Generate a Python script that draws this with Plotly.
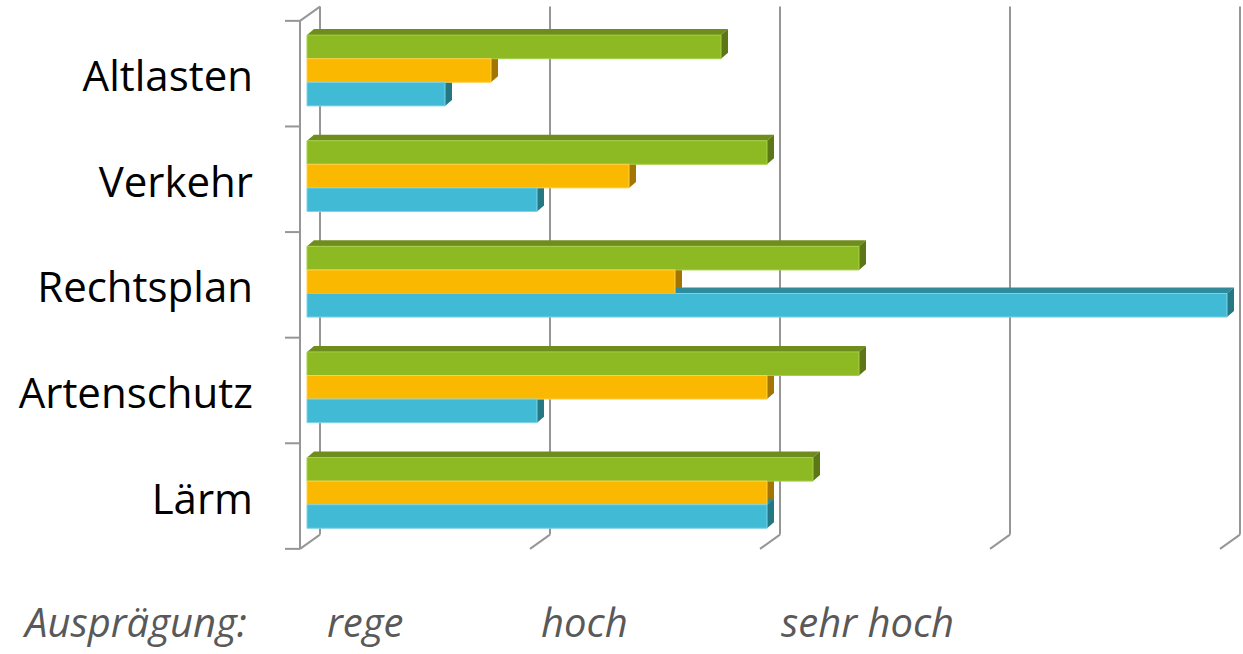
import plotly.graph_objects as go

# ---- data ----
categories = ["Altlasten", "Verkehr", "Rechtsplan", "Artenschutz", "Lärm"]
green_vals = [1.8, 2.0, 2.4, 2.4, 2.2]
orange_vals = [0.8, 1.4, 1.6, 2.0, 2.0]
blue_vals = [0.6, 1.0, 4.0, 1.0, 2.0]
grid_values = [0, 1, 2, 3, 4]
scale_title = "Ausprägung:"
scale_labels = ["rege", "hoch", "sehr hoch"]
scale_positions = [0.08, 1.01, 2.05]

# ---- styles ----
front_cols = ["#8DBA23", "#FBB800", "#41BAD5"]
top_cols = ["#6E8D1D", "#B48300", "#2F8B9B"]
side_cols = ["#5B7716", "#A27600", "#267784"]
edge_cols = ["#A6CF4A", "#FFD04A", "#7FD3E6"]
series = [green_vals, orange_vals, blue_vals]

BARGAP = 0.33
PX_X = 230.0      # pixels per x unit
PX_Y = 105.6      # pixels per category
BAR_DX = 7 / PX_X
BAR_DY = 6 / PX_Y
FRONT_DX, FRONT_DY = -7 / PX_X, 0.03
BACK_DX, BACK_DY = 13 / PX_X, -0.105
GRID_COL = "#969696"
PLOT_W = 959
PLOT_H = 560

ypos = list(range(len(categories)))

fig = go.Figure()
for t, vals in enumerate(series):
    fig.add_trace(go.Bar(
        y=ypos, x=vals, orientation="h",
        marker=dict(color=front_cols[t], line=dict(color=edge_cols[t], width=1)),
        showlegend=False, hoverinfo="x+y",
    ))

shapes = []
n = len(categories)
# back wall grid lines + floor diagonals
for g in grid_values:
    shapes.append(dict(type="line", xref="x", yref="y", layer="below",
                       x0=g + BACK_DX, x1=g + BACK_DX,
                       y0=-0.5 + BACK_DY, y1=n - 0.5 + BACK_DY,
                       line=dict(color=GRID_COL, width=2)))
    shapes.append(dict(type="line", xref="x", yref="y", layer="below",
                       x0=g + BACK_DX, x1=g + FRONT_DX,
                       y0=n - 0.5 + BACK_DY, y1=n - 0.5 + FRONT_DY,
                       line=dict(color=GRID_COL, width=2)))
# left front axis
shapes.append(dict(type="line", xref="x", yref="y", layer="below",
                   x0=FRONT_DX, x1=FRONT_DX, y0=-0.5 + FRONT_DY, y1=n - 0.5 + FRONT_DY,
                   line=dict(color=GRID_COL, width=2)))
shapes.append(dict(type="line", xref="x", yref="y", layer="below",
                   x0=FRONT_DX, x1=BACK_DX, y0=-0.5 + FRONT_DY, y1=-0.5 + BACK_DY,
                   line=dict(color=GRID_COL, width=2)))
for j in range(n + 1):
    shapes.append(dict(type="line", xref="x", yref="y", layer="below",
                       x0=FRONT_DX - 15 / PX_X, x1=FRONT_DX,
                       y0=j - 0.5 + FRONT_DY, y1=j - 0.5 + FRONT_DY,
                       line=dict(color=GRID_COL, width=2)))

# 3D faces of bars
bw = (1 - BARGAP) / len(series)
for t, vals in enumerate(series):
    for i, v in enumerate(vals):
        top = i - (1 - BARGAP) / 2 + t * bw
        bot = top + bw
        shapes.append(dict(type="path", xref="x", yref="y", layer="below",
                           path=f"M 0,{top} L {v},{top} L {v + BAR_DX},{top - BAR_DY} L {BAR_DX},{top - BAR_DY} Z",
                           fillcolor=top_cols[t], line=dict(width=0)))
        shapes.append(dict(type="path", xref="x", yref="y", layer="below",
                           path=f"M {v},{top} L {v + BAR_DX},{top - BAR_DY} L {v + BAR_DX},{bot - BAR_DY} L {v},{bot} Z",
                           fillcolor=side_cols[t], line=dict(width=0)))

ANN_Y = -(621 - PLOT_H) / PLOT_H
ann_font = dict(size=40, color="#595959", family="Open Sans")
annotations = [dict(text=f"<i>{scale_title}</i>", xref="paper", yref="paper",
                    x=(20 - 284) / PLOT_W, xanchor="left", y=ANN_Y, yanchor="middle",
                    showarrow=False, font=ann_font)]
for lab, pos in zip(scale_labels, scale_positions):
    annotations.append(dict(text=f"<i>{lab}</i>", xref="x", yref="paper",
                            x=pos, xanchor="left", y=ANN_Y, yanchor="middle",
                            showarrow=False, font=ann_font))

top_px = 70.5
ymin = -top_px / PX_Y
ymax = (PLOT_H - top_px) / PX_Y

fig.update_layout(
    width=1243, height=654,
    margin=dict(l=284, r=0, t=0, b=654 - PLOT_H),
    paper_bgcolor="white", plot_bgcolor="white",
    barmode="group", bargap=BARGAP, bargroupgap=0,
    shapes=shapes, annotations=annotations,
    font=dict(family="Open Sans", color="black"),
    xaxis=dict(range=[-0.1, -0.1 + PLOT_W / PX_X], showgrid=False, zeroline=False,
               showticklabels=False, showline=False),
    yaxis=dict(range=[ymax, ymin], tickmode="array", tickvals=ypos, ticktext=categories,
               showgrid=False, zeroline=False, showline=False, ticks="",
               tickfont=dict(size=42, color="black", family="Open Sans"),
               ticklabelstandoff=30, ticklabelshift=-6),
)

fig.write_html("out.html")
